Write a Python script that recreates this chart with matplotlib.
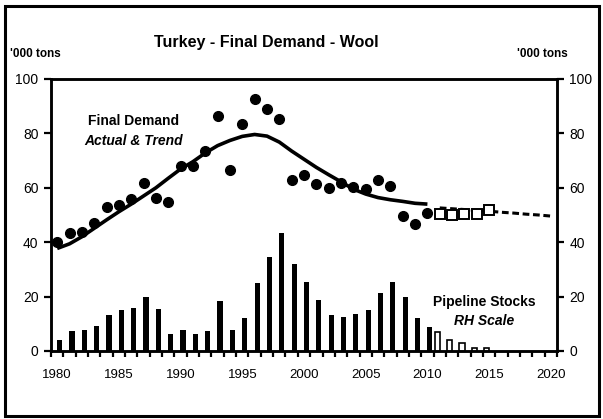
import numpy as np
import matplotlib.pyplot as plt
from matplotlib.patches import Rectangle

plt.rcParams['font.family'] = ['Liberation Sans', 'DejaVu Sans']

# Data ('000 tons)
years = np.arange(1980, 2011)
actual = [40.2, 43.2, 43.7, 46.9, 53.0, 53.6, 55.8, 61.6, 56.1, 54.6,
          68.1, 67.9, 73.7, 86.4, 66.7, 83.3, 92.5, 88.8, 85.4, 63.0,
          64.7, 61.4, 60.0, 61.6, 60.4, 59.5, 63.0, 60.7, 49.7, 46.8, 50.9]
trend = [37.7, 39.4, 42.0, 45.1, 48.2, 51.2, 54.0, 57.0, 60.0, 63.5,
         66.9, 69.6, 72.8, 75.5, 77.4, 78.9, 79.6, 79.0, 76.8, 73.5,
         70.5, 67.5, 64.8, 62.2, 59.5, 57.7, 56.4, 55.6, 55.0, 54.3, 54.0]
stocks = [4.1, 7.4, 7.8, 9.2, 13.2, 15.2, 15.9, 19.8, 15.5, 6.4,
          7.8, 6.4, 7.4, 18.5, 7.8, 12.1, 25.1, 34.6, 43.2, 31.8,
          25.5, 18.9, 13.2, 12.6, 13.5, 15.0, 21.3, 25.5, 19.7, 12.1, 8.8]

fc_years = np.arange(2011, 2016)
fc_actual = [50.5, 50.0, 50.5, 50.5, 51.8]
fc_stocks = [7.0, 4.1, 2.8, 1.2, 1.2]

trend_fc_years = np.arange(2011, 2021)
trend_fc = [52.6, 52.3, 52.0, 51.7, 51.4, 51.0, 50.7, 50.3, 50.0, 49.6]

fig = plt.figure(figsize=(6.03, 4.19), dpi=100)
ax = fig.add_axes([0.0846, 0.1623, 0.8391, 0.6492])
ax2 = ax.twinx()

# pipeline stocks (RH scale)
ax2.bar(years + 0.2, stocks, width=0.42, color='black', zorder=2)
ax2.bar(fc_years - 0.2, fc_stocks, width=0.42, color='white',
        edgecolor='black', linewidth=1.2, zorder=2)

# final demand
ax.plot(years, trend, color='black', lw=2.6, solid_capstyle='butt')
ax.plot(trend_fc_years, trend_fc, color='black', lw=2.2, ls=(0, (2.2, 1.2)))
ax.plot(years, actual, 'o', ms=7, color='black')
ax.plot(fc_years, fc_actual, 's', ms=6.5, mfc='white', mec='black', mew=1.4)

for a in (ax, ax2):
    a.set_xlim(1979.5, 2020.5)
    a.set_ylim(0, 100)
    a.set_yticks(range(0, 101, 20))
    for s in a.spines.values():
        s.set_linewidth(1.8)
    a.tick_params(axis='y', direction='out', length=5, width=1.6,
                  labelsize=10, pad=4)

ax.set_xticks(range(1980, 2021, 5))
ax.set_xticks(np.arange(1979.5, 2020.6, 1), minor=True)
ax.tick_params(axis='x', which='major', length=0, labelsize=9.5, pad=13)
ax.tick_params(axis='x', which='minor', direction='out', length=4, width=1.6)

ax.text(1986.2, 84.5, 'Final Demand', ha='center', va='center',
        fontsize=10, fontweight='bold')
ax.text(1986.2, 77.1, 'Actual & Trend', ha='center', va='center',
        fontsize=10, fontweight='bold', style='italic')
ax.text(2014.6, 18.1, 'Pipeline Stocks', ha='center', va='center',
        fontsize=10, fontweight='bold')
ax.text(2014.6, 11.1, 'RH Scale', ha='center', va='center',
        fontsize=10, fontweight='bold', style='italic')

fig.text(266 / 603, 1 - 43 / 419, 'Turkey - Final Demand - Wool',
         ha='center', va='center', fontsize=11.5, fontweight='bold')
fig.text(10 / 603, 1 - 54 / 419, "'000 tons", ha='left', va='center',
         fontsize=8.5, fontweight='bold')
fig.text(568 / 603, 1 - 54 / 419, "'000 tons", ha='right', va='center',
         fontsize=8.5, fontweight='bold')

fig.patches.append(Rectangle((0.0083, 0.0072), 0.985, 0.9785,
                             transform=fig.transFigure, fill=False,
                             lw=2.2, ec='black'))

fig.savefig('out.png', dpi=100)
